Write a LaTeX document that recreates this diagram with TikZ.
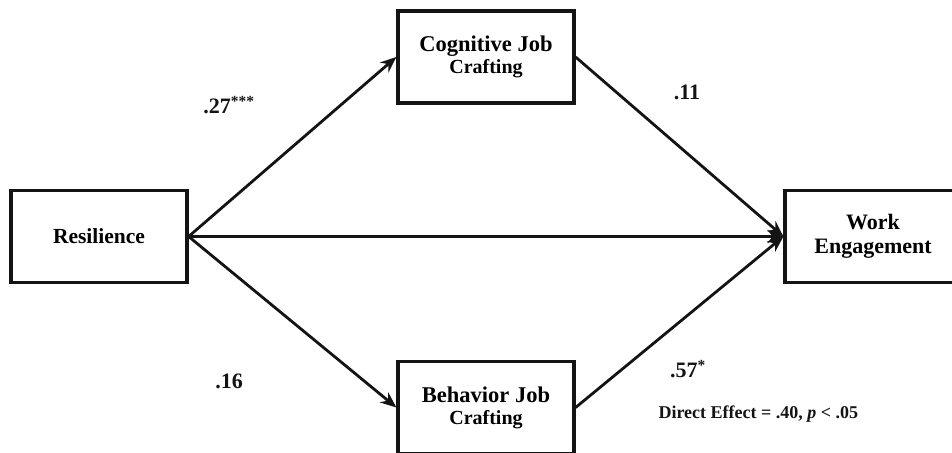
\documentclass[tikz,border=0pt]{standalone}
\usepackage{fontspec}
\setmainfont{Liberation Serif}
\usetikzlibrary{arrows.meta}
\definecolor{inkblack}{RGB}{20, 20, 20}

\begin{document}
\begin{tikzpicture}[x=1pt, y=-1pt,
        varbox/.style  = {draw=inkblack, line width=3.2pt, minimum width=176pt, minimum height=92pt,
                          align=center, font=\bfseries\fontsize{22.5}{24}\selectfont, inner sep=0pt},
        path/.style    = {draw=inkblack, line width=2.8pt, -{Stealth[length=16pt, width=13pt]}},
        coef/.style    = {font=\bfseries\fontsize{22}{24}\selectfont, text=inkblack}]
            \useasboundingbox                                                   (0, 0) rectangle (952, 452);
            \node[varbox, font=\bfseries\fontsize{21.5}{24}\selectfont]
                          (res)  at ( 99.0, 236.5) {\raisebox{-3pt}{Resilience}};
            \node[varbox] (cog)  at (486.0,  57.0) {\raisebox{-3pt}{Cognitive Job}\\[1pt]{\fontsize{20}{22}\selectfont Crafting}};
            \node[varbox] (beh)  at (486.0, 407.5) {\raisebox{-3pt}{Behavior Job}\\[1pt]{\fontsize{20}{22}\selectfont Crafting}};
            \node[varbox, font=\bfseries\fontsize{22}{25}\selectfont]
                          (work) at (873.0, 236.5) {\raisebox{-4pt}{Work}\\[0pt]\raisebox{-3pt}{Engagement}};
            % beh runs out under the lower edge of the page
            \draw[path] (res.east)  -- (cog.west);
            \draw[path] (res.east)  -- (beh.west);
            \draw[path] (res.east)  -- (work.west);
            \draw[path] (cog.east)  -- (work.west);
            \draw[path] (beh.east)  -- (work.west);
            \node[coef] (a1) at (229, 105) {.27\textsuperscript{***}};
            \node[coef] (b1) at (687,  92) {.11};
            \node[coef] (a2) at (229, 381) {.16};
            \node[coef] (b2) at (688, 369) {.57\textsuperscript{*}};
            \node[coef, anchor=west, font=\bfseries\fontsize{18}{20}\selectfont] (de) at (655, 414)
                 {Direct Effect = .40, \textit{p} < .05};
        \end{tikzpicture}
\end{document}
